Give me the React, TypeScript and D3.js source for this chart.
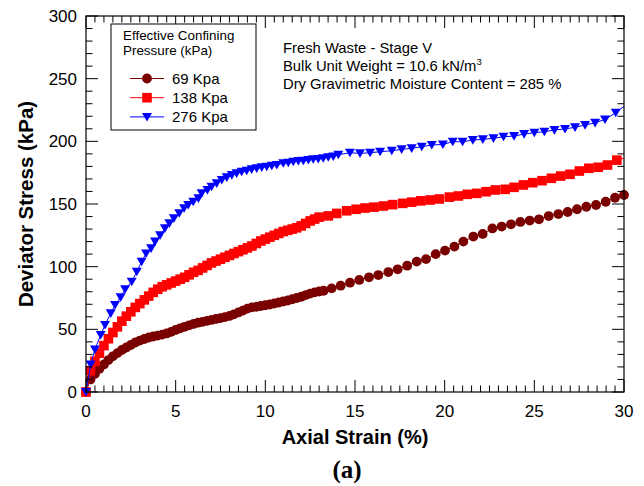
import React from 'react';
import * as d3 from 'd3';

// ---- Data ----
const strain69 = [
  0, 0.25, 0.5, 0.75, 1.0, 1.25, 1.5, 1.75, 2.0, 2.25, 2.5, 2.75, 3.0, 3.25, 3.5, 3.75, 4.0, 4.25, 4.5, 4.75,
  5.0, 5.25, 5.5, 5.75, 6.0, 6.25, 6.5, 6.75, 7.0, 7.25, 7.5, 7.75, 8.0, 8.25, 8.5, 8.75, 9.0, 9.25, 9.5, 9.75,
  10.0, 10.25, 10.5, 10.75, 11.0, 11.25, 11.5, 11.75, 12.0, 12.25, 12.5, 12.75, 13.0, 13.25,
  13.7, 14.2, 14.72, 15.24, 15.78, 16.3, 16.86, 17.38, 17.91, 18.44, 18.96, 19.5, 20.02, 20.54, 21.04, 21.6,
  22.12, 22.66, 23.18, 23.7, 24.22, 24.74, 25.26, 25.8, 26.34, 26.86, 27.38, 27.9, 28.44, 28.98, 29.5, 30.0,
];
const stress69 = [
  0, 10, 14.5, 18.5, 22, 25.5, 28.5, 31, 33.5, 35.5, 37.5, 39.5, 41, 42.3, 43.5, 44.3, 45, 45.8, 46.7, 48,
  49.5, 50.8, 52, 53.2, 54.3, 55.3, 56, 56.8, 57.5, 58.3, 59, 59.8, 60.7, 62, 63.5, 65, 66.5, 67.5, 68, 68.6,
  69.2, 69.8, 70.6, 71.4, 72.2, 73, 74, 75, 76, 77.3, 78.5, 79.5, 80.2, 80.8,
  82.7, 84.8, 87.2, 89.4, 91.5, 93.3, 95.7, 97.9, 100.8, 104, 106, 110, 112.8, 116, 120, 124,
  126.1, 130.5, 132, 133.8, 135.7, 136.8, 137.8, 140.4, 142, 143.6, 145.8, 147.8, 149.2, 151.8, 155, 157.2,
];

const strain138 = [
  0, 0.25, 0.5, 0.75, 1.0, 1.25, 1.5, 1.75, 2.0, 2.25, 2.5, 2.75, 3.0, 3.25, 3.5, 3.75, 4.0, 4.25, 4.5, 4.75,
  5.0, 5.25, 5.5, 5.75, 6.0, 6.25, 6.5, 6.75, 7.0, 7.25, 7.5, 7.75, 8.0, 8.25, 8.5, 8.75, 9.0, 9.25, 9.5, 9.75,
  10.0, 10.25, 10.5, 10.75, 11.0, 11.25, 11.5, 11.75, 12.0, 12.25, 12.5, 12.75, 13.0,
  13.51, 13.98, 14.54, 15.06, 15.56, 16.06, 16.58, 17.1, 17.66, 18.16, 18.67, 19.19, 19.7, 20.26, 20.76, 21.26,
  21.79, 22.31, 22.82, 23.37, 23.87, 24.39, 24.91, 25.43, 25.95, 26.47, 26.99, 27.51, 28.04, 28.56, 29.08, 29.6, 30.3,
];
const stress138 = [
  0, 17, 24.5, 31, 37, 42.5, 47.5, 52, 56.5, 60.5, 64, 67.5, 70.5, 73.5, 76.5, 79.5, 82, 84, 85.5, 87,
  88.5, 90, 91.5, 93.5, 95.5, 97, 99, 101, 103, 104.5, 106, 107.5, 109, 110.5, 112, 113.5, 115, 116.5, 118.5, 120.5,
  122, 123.5, 125, 126.5, 128, 129, 130, 131, 132.5, 134.5, 136.5, 138, 139.5,
  140.5, 142.5, 144.6, 145.8, 146.8, 147.5, 148.4, 149.5, 150.5, 151.5, 152.5, 153.2, 154, 155.5, 156.4, 157.7,
  158.5, 159.8, 161.2, 161.7, 163.3, 165.2, 167, 168.6, 170.5, 172.3, 173.7, 176.3, 178.5, 179.3, 181.1, 185, 187.6,
];

const strain276 = [
  0, 0.26, 0.5, 0.82, 1.06, 1.38, 1.62, 1.93, 2.18, 2.55, 2.83, 3.1, 3.35, 3.63, 3.85, 4.13, 4.4, 4.65, 4.9, 5.2,
  5.47, 5.7, 5.98, 6.27, 6.45, 6.77, 7.0, 7.29, 7.57, 7.85, 8.13, 8.4, 8.68, 8.96, 9.24, 9.52, 9.8, 10.08, 10.36, 10.64,
  11.0, 11.28, 11.56, 11.84, 12.12, 12.4, 12.67, 12.95, 13.23, 13.51, 13.79, 14.07,
  14.72, 15.28, 15.84, 16.4, 17.05, 17.6, 18.16, 18.72, 19.28, 19.9, 20.45, 21.0, 21.57, 22.13, 22.72, 23.28,
  23.87, 24.43, 25.0, 25.56, 26.12, 26.71, 27.27, 27.83, 28.39, 28.94, 29.54, 30.4,
];
const stress276 = [
  0, 22, 34, 45.5, 53.5, 62.8, 69.4, 75.5, 82, 88, 96, 104, 110.6, 114.6, 120, 125, 130.6, 134.6, 138.6, 142.6,
  146.6, 149.2, 151.8, 154.5, 158.5, 161.2, 163.8, 166.5, 169.2, 171.3, 173.1, 174.5, 175.8, 176.6, 177.7, 178.5, 179.3, 179.8, 180.6, 181.1,
  182.5, 183, 183.8, 184.4, 184.6, 185.2, 185.7, 186, 186.5, 187.4, 187.9, 189.3,
  190.9, 190.4, 190.9, 191.7, 192.5, 193.6, 194.4, 195.7, 197.1, 197.5, 199.7, 199.7, 201, 201.6, 202.4, 203.7,
  204.2, 205.8, 206.9, 207.7, 209, 209.9, 211.2, 213, 214.8, 217.5, 222.8, 232.5,
];

const seriesNames = ['69 Kpa', '138 Kpa', '276 Kpa'];
const seriesColors = ['#7a0000', '#ff0000', '#0000ff'];
const xTicks = [0, 5, 10, 15, 20, 25, 30];
const yTicks = [0, 50, 100, 150, 200, 250, 300];
const legendTitle = ['Effective Confining', 'Pressure (kPa)'];
const noteLines = ['Fresh Waste - Stage V', 'Bulk Unit Weight = 10.6 kN/m', 'Dry Gravimetric Moisture Content = 285 %'];

const SANS = '"Liberation Sans", Arial, Helvetica, sans-serif';
const SERIF = '"Liberation Serif", "Times New Roman", "DejaVu Serif", serif';

type Shape = 'circle' | 'square' | 'triangle';
const shapes: Shape[] = ['circle', 'square', 'triangle'];

function Marker({ shape, cx, cy, color }: { shape: Shape; cx: number; cy: number; color: string }) {
  if (shape === 'circle') return <circle cx={cx} cy={cy} r={4.9} fill={color} />;
  if (shape === 'square') return <rect x={cx - 4.8} y={cy - 4.8} width={9.6} height={9.6} fill={color} />;
  return <path d={`M${cx - 5},${cy - 4} L${cx + 5},${cy - 4} L${cx},${cy + 4.6} Z`} fill={color} />;
}

export default function App() {
  const W = 644, H = 486;
  const L = 86, R = 624, T = 16, B = 392;
  const x = d3.scaleLinear().domain([0, 30]).range([L, R]);
  const y = d3.scaleLinear().domain([0, 300]).range([B, T]);
  const line = d3.line<[number, number]>().x(d => x(d[0])).y(d => y(d[1]));

  const series = [
    { s: strain69, v: stress69 },
    { s: strain138, v: stress138 },
    { s: strain276, v: stress276 },
  ].map((d, i) => ({
    pts: d.s.map((s, j) => [s, d.v[j]] as [number, number]),
    color: seriesColors[i],
    shape: shapes[i],
    name: seriesNames[i],
  }));

  const xMinor = d3.range(0, 30.001, 0.5);
  const yMinor = d3.range(0, 300.001, 10);

  return (
    <svg width={W} height={H} style={{ position: 'absolute', left: 0, top: 0, background: '#fff' }}>
      <defs>
        <clipPath id="plotclip">
          <rect x={L} y={T} width={R - L} height={B - T} />
        </clipPath>
      </defs>
      <rect x={0} y={0} width={W} height={H} fill="#fff" />

      {/* series */}
      {series.map((sr, i) => (
        <g key={i}>
          <path d={line(sr.pts) || ''} fill="none" stroke={sr.color} strokeWidth={1} clipPath="url(#plotclip)" />
          {sr.pts.filter(p => p[0] <= 30.05).map((p, j) => (
            <Marker key={j} shape={sr.shape} cx={x(p[0])} cy={y(p[1])} color={sr.color} />
          ))}
        </g>
      ))}

      {/* frame */}
      <rect x={L} y={T} width={R - L} height={B - T} fill="none" stroke="#000" strokeWidth={1.2} />

      {/* ticks, inward on all four sides */}
      {xMinor.map((v, i) => {
        const major = Math.abs(v % 5) < 1e-6;
        const len = major ? 12 : 6.5;
        return (
          <g key={'x' + i} stroke="#000" strokeWidth={1}>
            <line x1={x(v)} x2={x(v)} y1={B} y2={B - len} />
            <line x1={x(v)} x2={x(v)} y1={T} y2={T + len} />
          </g>
        );
      })}
      {yMinor.map((v, i) => {
        const major = Math.abs(v % 50) < 1e-6;
        const len = major ? 12 : 6.5;
        return (
          <g key={'y' + i} stroke="#000" strokeWidth={1}>
            <line x1={L} x2={L + len} y1={y(v)} y2={y(v)} />
            <line x1={R} x2={R - len} y1={y(v)} y2={y(v)} />
          </g>
        );
      })}

      {/* tick labels */}
      {xTicks.map(v => (
        <text key={'xl' + v} x={x(v)} y={417} textAnchor="middle" fontFamily={SANS} fontSize={17} fill="#000">{v}</text>
      ))}
      {yTicks.map(v => (
        <text key={'yl' + v} x={77} y={y(v) + 6} textAnchor="end" fontFamily={SANS} fontSize={17} fill="#000">{v}</text>
      ))}

      {/* axis titles */}
      <text x={(L + R) / 2} y={444} textAnchor="middle" fontFamily={SANS} fontWeight="bold" fontSize={20} fill="#000">Axial Strain (%)</text>
      <text transform={`translate(33,${(T + B) / 2}) rotate(-90)`} textAnchor="middle" fontFamily={SANS} fontWeight="bold" fontSize={20.5} fill="#000">Deviator Stress (kPa)</text>
      <text x={347} y={478} textAnchor="middle" fontFamily={SERIF} fontWeight="bold" fontSize={25} fill="#000">(a)</text>

      {/* legend */}
      <rect x={111} y={24} width={145} height={106} fill="#fff" stroke="#000" strokeWidth={1} />
      {legendTitle.map((t, i) => (
        <text key={'lt' + i} x={123} y={39.5 + i * 15} fontFamily={SANS} fontSize={13.4} fill="#000">{t}</text>
      ))}
      {series.map((sr, i) => {
        const cy = 78.5 + i * 19.2;
        return (
          <g key={'lg' + i}>
            <line x1={130} x2={164} y1={cy} y2={cy} stroke={sr.color} strokeWidth={1} />
            <Marker shape={sr.shape} cx={147} cy={cy} color={sr.color} />
            <text x={172} y={cy + 5.3} fontFamily={SANS} fontSize={15} fill="#000">{sr.name}</text>
          </g>
        );
      })}

      {/* annotation */}
      <text x={283} y={53} fontFamily={SANS} fontSize={14.8} fill="#000">{noteLines[0]}</text>
      <text x={283} y={71} fontFamily={SANS} fontSize={14.8} fill="#000">
        {noteLines[1]}<tspan dy={-6} fontSize={9.5}>3</tspan>
      </text>
      <text x={283} y={88.5} fontFamily={SANS} fontSize={14.8} fill="#000">{noteLines[2]}</text>
    </svg>
  );
}
